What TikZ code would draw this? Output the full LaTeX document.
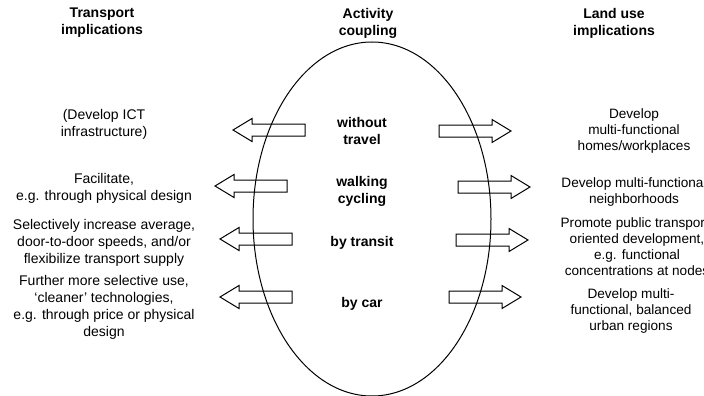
\documentclass[tikz,border=0pt]{standalone}
\usepackage{fontspec}
\setmainfont{Liberation Sans}
\begin{document}
\begin{tikzpicture}[x=1pt,y=-1pt,
  head/.style={font=\bfseries\fontsize{14}{17}\selectfont, align=center, inner sep=0pt},
  mode/.style={font=\bfseries\fontsize{14}{17}\selectfont, align=center, inner sep=0pt},
  ltext/.style={font=\fontsize{14}{17}\selectfont, align=center, inner sep=0pt},
  rtext/.style={font=\fontsize{13.6}{16}\selectfont, align=center, inner sep=0pt},
  outline/.style={draw, line width=1pt, line join=miter},
  pics/leftblock/.style={code={
    \draw[outline] (0,0) -- (19,-11.5) -- (19,-6) -- (72,-6) -- (72,6)
      -- (19,6) -- (19,11.5) -- cycle;}},
  pics/rightblock/.style={code={
    \draw[outline] (0,0) -- (-19,-11.5) -- (-19,-6) -- (-72,-6) -- (-72,6)
      -- (-19,6) -- (-19,11.5) -- cycle;}}
]
\useasboundingbox (0,0) rectangle (704,396);

% column headings
\node[head] (hT) at (102,23) {Transport\\implications};
\node[head] (hA) at (368,23) {Activity\\coupling};
\node[head] (hL) at (614,23) {Land use\\implications};

% activity coupling ellipse
\draw[line width=1pt] (372,219) ellipse [x radius=119, y radius=177];

% coupling modes
\node[mode] (m1) at (362,131) {without\\travel};
\node[mode] (m2) at (362,191) {walking\\cycling};
\node[mode] (m3) at (362,243) {by transit};
\node[mode] (m4) at (362,304) {by car};

% arrows towards transport implications
\pic at (233,130) {leftblock};
\pic at (215,186) {leftblock};
\pic at (220,239) {leftblock};
\pic at (220,297) {leftblock};

% arrows towards land use implications
\pic at (511,131) {rightblock};
\pic at (530,187) {rightblock};
\pic at (528,240) {rightblock};
\pic at (521,297) {rightblock};

% transport implications
\node[ltext] (t1) at (104,124) {(Develop ICT\\infrastructure)};
\node[ltext] (t2) at (104,188) {Facilitate,\\e.g. through physical design};
\node[ltext] (t3) at (104,243) {Selectively increase average,\\door-to-door speeds, and/or\\flexibilize transport supply};
\node[ltext] (t4) at (104,307) {Further more selective use,\\`cleaner' technologies,\\e.g. through price or physical\\design};

% land use implications
\node[rtext] (l1) at (634,131) {Develop\\multi-functional\\homes/workplaces};
\node[rtext] (l2) at (634,192) {Develop multi-functional\\neighborhoods};
\node[rtext] (l3) at (637,247) {Promote public transport-\\oriented development,\\e.g. functional\\concentrations at nodes};
\node[rtext] (l4) at (631,311) {Develop multi-\\functional, balanced\\urban regions};
\end{tikzpicture}
\end{document}
